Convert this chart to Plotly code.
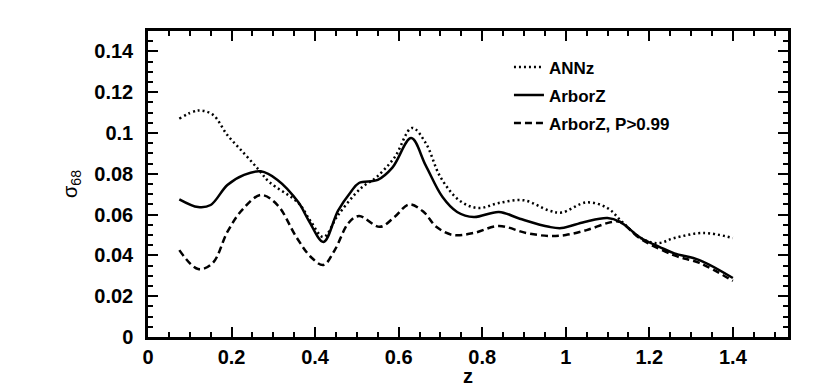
import plotly.graph_objects as go

# --- Data (sigma_68 vs z) ---

z_annz = [0.075, 0.12, 0.155, 0.19, 0.23, 0.265, 0.29, 0.36, 0.39, 0.42, 0.455, 0.51, 0.545,
          0.59, 0.632, 0.665, 0.70, 0.745, 0.79, 0.84, 0.90, 0.96, 0.99, 1.05, 1.10, 1.135,
          1.18, 1.22, 1.26, 1.33, 1.40]
sig_annz = [0.107, 0.111, 0.109, 0.099, 0.090, 0.082, 0.076, 0.0657, 0.0565, 0.049, 0.0598,
            0.073, 0.078, 0.088, 0.1025, 0.095, 0.0784, 0.067, 0.0632, 0.0657, 0.067, 0.062,
            0.061, 0.066, 0.0632, 0.0564, 0.0485, 0.046, 0.0485, 0.051, 0.0485]

z_arbor = [0.075, 0.12, 0.15, 0.19, 0.23, 0.27, 0.31, 0.36, 0.385, 0.42, 0.455, 0.485, 0.505,
           0.55, 0.585, 0.63, 0.665, 0.705, 0.74, 0.78, 0.84, 0.89, 0.96, 0.99, 1.045, 1.10,
           1.13, 1.18, 1.225, 1.26, 1.32, 1.40]
sig_arbor = [0.0675, 0.0637, 0.0647, 0.0745, 0.0795, 0.0812, 0.077, 0.066, 0.057, 0.0466,
             0.062, 0.071, 0.0755, 0.077, 0.083, 0.0975, 0.084, 0.0686, 0.0613, 0.0588,
             0.0613, 0.058, 0.054, 0.0534, 0.0564, 0.0583, 0.0564, 0.0485, 0.0441, 0.041,
             0.0377, 0.0289]

z_arbor99 = [0.075, 0.12, 0.155, 0.19, 0.225, 0.27, 0.31, 0.355, 0.39, 0.42, 0.447, 0.48,
             0.505, 0.555, 0.59, 0.625, 0.66, 0.69, 0.73, 0.78, 0.84, 0.905, 0.96, 1.0, 1.05,
             1.11, 1.13, 1.18, 1.26, 1.32, 1.40]
sig_arbor99 = [0.0426, 0.0333, 0.0363, 0.0515, 0.0622, 0.0696, 0.0647, 0.049, 0.0392, 0.0353,
               0.0426, 0.0559, 0.0593, 0.054, 0.0588, 0.065, 0.0613, 0.054, 0.050, 0.051,
               0.0544, 0.051, 0.0495, 0.050, 0.0524, 0.0564, 0.0564, 0.048, 0.040, 0.0363,
               0.0275]

x_ticks = [0, 0.2, 0.4, 0.6, 0.8, 1, 1.2, 1.4]
x_ticklabels = ["0", "0.2", "0.4", "0.6", "0.8", "1", "1.2", "1.4"]
y_ticks = [0, 0.02, 0.04, 0.06, 0.08, 0.1, 0.12, 0.14]
y_ticklabels = ["0", "0.02", "0.04", "0.06", "0.08", "0.1", "0.12", "0.14"]

FONT = "Liberation Sans"

fig = go.Figure()

series = [
    ("ANNz", z_annz, sig_annz, "2px,3px"),
    ("ArborZ", z_arbor, sig_arbor, "solid"),
    ("ArborZ, P>0.99", z_arbor99, sig_arbor99, "7px,4px"),
]
for name, zs, ys, dash in series:
    fig.add_trace(go.Scatter(
        x=zs, y=ys, name=name, mode="lines", legendgroup=name,
        line=dict(color="black", width=2.5, dash=dash, shape="spline", smoothing=1.0),
    ))

axis_common = dict(
    showline=True, linecolor="black", linewidth=2.5, mirror="allticks",
    ticks="inside", ticklen=10, tickwidth=1.5, tickcolor="black",
    showgrid=False, zeroline=False, automargin=False,
    tickfont=dict(family=FONT, size=20, color="black", weight="bold"),
)

fig.update_xaxes(
    range=[0, 1.532], tickvals=x_ticks, ticktext=x_ticklabels,
    minor=dict(dtick=0.05, ticks="inside", ticklen=5, tickcolor="black", tickwidth=1.5),
    title=dict(text="z", font=dict(family=FONT, size=20, color="black", weight="bold"),
               standoff=0),
    **axis_common,
)
fig.update_yaxes(
    range=[0, 0.15], tickvals=y_ticks, ticktext=y_ticklabels,
    minor=dict(dtick=0.005, ticks="inside", ticklen=5, tickcolor="black", tickwidth=1.5),
    ticklabelstandoff=8,
    title=dict(text="σ<sub>68</sub>", font=dict(family=FONT, size=20, color="#000000"),
               standoff=12),
    **axis_common,
)

# page body adds an 8px offset, so the figure is sized and placed to compensate
fig.update_layout(
    width=822, height=379,
    margin=dict(l=140, r=42, t=23, b=50),
    plot_bgcolor="white", paper_bgcolor="white",
    font=dict(family=FONT, color="black"),
    legend=dict(
        x=0.564, y=0.94, xanchor="left", yanchor="top",
        bgcolor="rgba(0,0,0,0)",
        font=dict(family=FONT, size=17, color="black", weight="bold"),
        tracegroupgap=3,
    ),
)

fig.write_html("out.html")
